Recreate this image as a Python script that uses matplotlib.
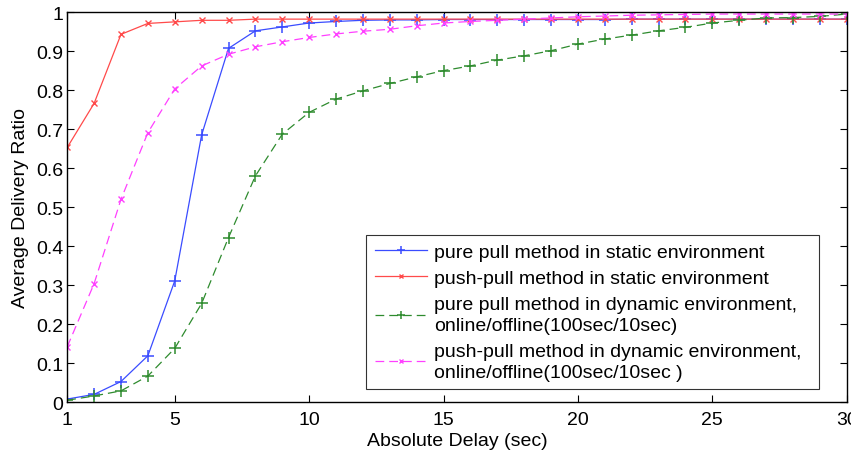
import numpy as np
import matplotlib
matplotlib.use('Agg')
import matplotlib.pyplot as plt
from matplotlib.ticker import FormatStrFormatter

plt.rcParams['font.family'] = ['Liberation Sans', 'DejaVu Sans']

delay = list(range(1, 31))

pure_pull_static = [0.008, 0.02, 0.053, 0.119, 0.311, 0.685, 0.907, 0.952, 0.962, 0.972,
                    0.976, 0.979, 0.980, 0.980, 0.981, 0.981, 0.981, 0.981, 0.981, 0.981,
                    0.981, 0.982, 0.982, 0.982, 0.982, 0.982, 0.982, 0.982, 0.982, 0.982]
push_pull_static = [0.653, 0.766, 0.943, 0.971, 0.975, 0.979, 0.979, 0.982, 0.982, 0.982,
                    0.982, 0.982, 0.982, 0.982, 0.982, 0.982, 0.982, 0.982, 0.982, 0.982,
                    0.982, 0.982, 0.982, 0.982, 0.982, 0.982, 0.982, 0.982, 0.982, 0.982]
pure_pull_dynamic = [0.005, 0.016, 0.029, 0.067, 0.138, 0.253, 0.422, 0.58, 0.687, 0.743,
                     0.777, 0.798, 0.817, 0.834, 0.85, 0.862, 0.877, 0.888, 0.901, 0.918,
                     0.931, 0.941, 0.952, 0.961, 0.972, 0.979, 0.985, 0.986, 0.989, 0.995]
push_pull_dynamic = [0.142, 0.304, 0.52, 0.691, 0.803, 0.862, 0.892, 0.911, 0.924, 0.935,
                     0.944, 0.951, 0.956, 0.965, 0.972, 0.976, 0.979, 0.982, 0.985, 0.988,
                     0.99, 0.992, 0.993, 0.994, 0.995, 0.995, 0.995, 0.995, 0.995, 0.995]

labels = ['pure pull method in static environment',
          'push-pull method in static environment',
          'pure pull method in dynamic environment,\nonline/offline(100sec/10sec)',
          'push-pull method in dynamic environment,\nonline/offline(100sec/10sec )']

fig = plt.figure(figsize=(8.51, 4.52), dpi=100)
ax = fig.add_axes([0.079, 0.108, 0.916, 0.863])

ax.plot(delay, pure_pull_static, color='#3a4cff', marker='+', ms=9, mew=1.1, lw=0.9, label=labels[0])
ax.plot(delay, push_pull_static, color='#ff4a4a', marker='x', ms=5, mew=1.0, lw=0.9, label=labels[1])
ax.plot(delay, pure_pull_dynamic, color='#2e8b2e', marker='+', ms=9, mew=1.1, lw=0.9,
        ls=(0, (7, 4)), label=labels[2])
ax.plot(delay, push_pull_dynamic, color='#ff40ff', marker='x', ms=5, mew=1.0, lw=0.9,
        ls=(0, (7, 4)), label=labels[3])

ax.set_xlim(1, 30)
ax.set_ylim(0, 1)
ax.set_xticks([1, 5, 10, 15, 20, 25, 30])
ax.set_yticks(np.arange(0, 1.01, 0.1))
ax.yaxis.set_major_formatter(FormatStrFormatter('%g'))
ax.tick_params(direction='in', top=True, right=True, length=5, labelsize=14)
ax.tick_params(axis='x', pad=6)
ax.tick_params(axis='y', pad=3)
ax.set_xlabel('Absolute Delay (sec)', fontsize=14, labelpad=3)
ax.set_ylabel('Average Delivery Ratio', fontsize=14, labelpad=5)
for s in ax.spines.values():
    s.set_linewidth(1.0)

leg = ax.legend(loc='lower left', bbox_to_anchor=(0.383, 0.033, 0.582, 0.39), mode='expand',
                borderaxespad=0, fontsize=14, frameon=True, fancybox=False, edgecolor='black',
                handlelength=2.7, labelspacing=0.45, borderpad=0.45, handletextpad=0.35,
                markerscale=0.7)
for t in leg.get_texts():
    t.set_linespacing(1.3)
leg.get_frame().set_linewidth(0.8)

fig.savefig('out.png', dpi=100)
